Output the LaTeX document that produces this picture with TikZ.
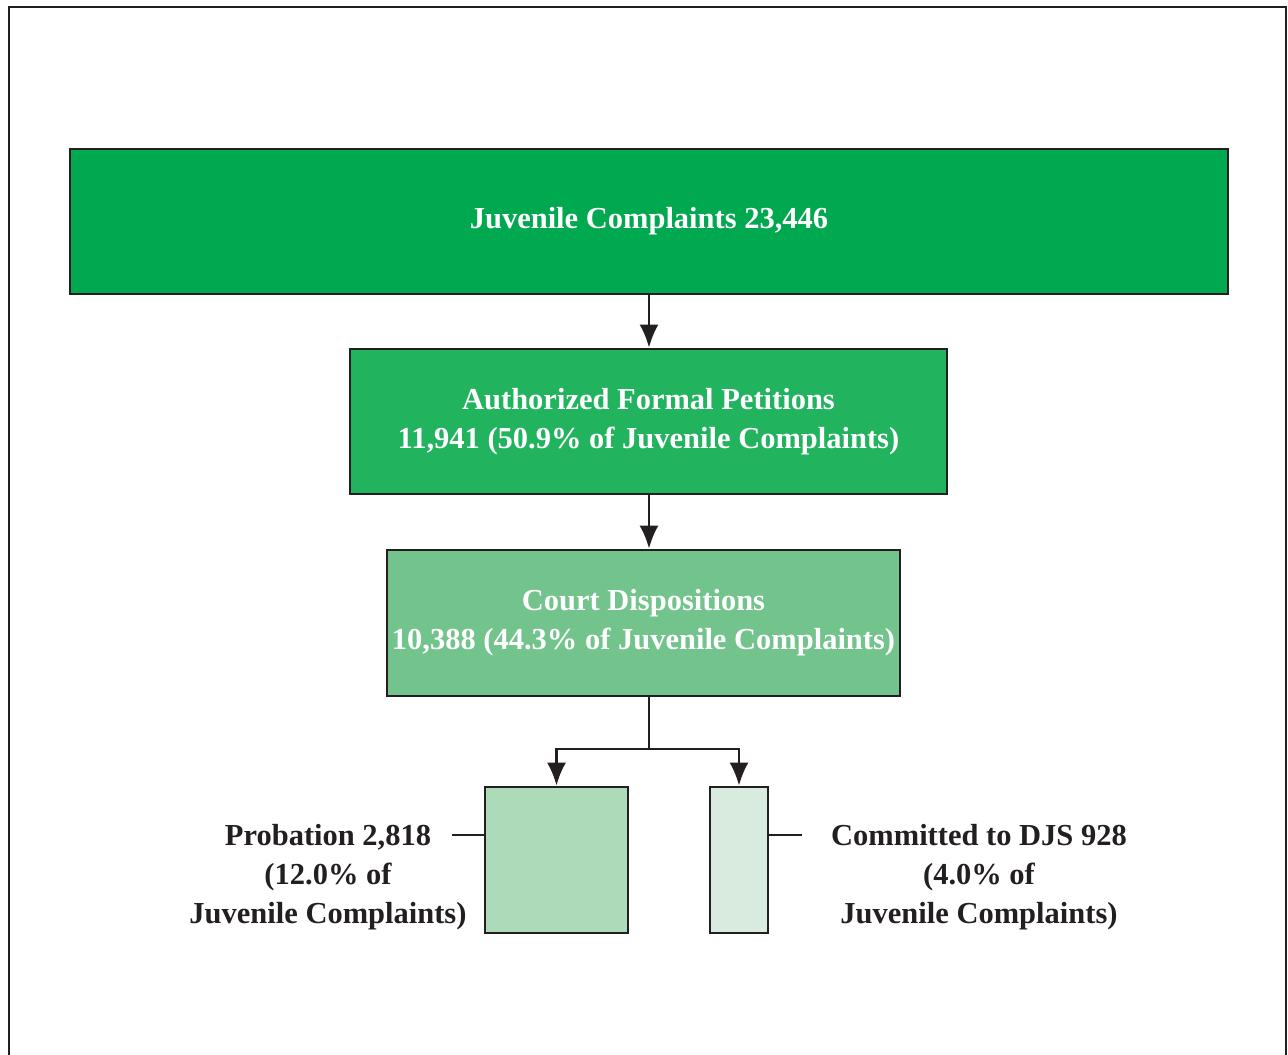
\documentclass[tikz,border=0pt]{standalone}
\usepackage{fontspec}
\setmainfont{Liberation Serif}
\usetikzlibrary{arrows.meta}
\definecolor{frame}{RGB}{35,31,32}
\definecolor{greenA}{RGB}{0,168,79}
\definecolor{greenB}{RGB}{34,179,95}
\definecolor{greenC}{RGB}{114,196,140}
\definecolor{greenD}{RGB}{173,218,185}
\definecolor{greenE}{RGB}{217,235,222}
\tikzset{
  box/.style={draw=frame,line width=2.7pt,minimum width=#1,
    inner sep=0pt,align=center,text=white,font=\fontsize{30.5}{39}\selectfont\bfseries},
  sidetext/.style={align=center,text=frame,font=\fontsize{30.5}{39}\selectfont\bfseries}
}
\begin{document}
\begin{tikzpicture}[x=1pt,y=-1pt,>={Latex[length=23pt,width=19pt]},line width=2.7pt,draw=frame]
\useasboundingbox (0,0) rectangle (1288,1055);
\fill[white] (0,0) rectangle (1288,1055);
\draw[color=frame] (9,1055)--(9,7)--(1286,7)--(1286,1055);
% flow boxes
\node[box=1158pt,minimum height=145pt,fill=greenA] (compl) at (649,221.5)
	{Juvenile Complaints 23,446};
\node[box=597pt,minimum height=145pt,fill=greenB] (petit) at (648.5,421.5)
	{Authorized Formal Petitions\\11,941 (50.9\% of Juvenile Complaints)};
\node[box=513pt,minimum height=146pt,fill=greenC] (court) at (643.5,623)
	{Court Dispositions\\10,388 (44.3\% of Juvenile Complaints)};
\node[box=143pt,minimum height=146pt,fill=greenD] (prob) at (556.5,860) {};
\node[box=58pt,minimum height=146pt,fill=greenE] (djs) at (739,860) {};
% connectors
\draw[->,color=frame] (compl.south -| 649,0)--(petit.north -| 649,0);
\draw[->,color=frame] (petit.south -| 649,0)--(court.north -| 649,0);
\coordinate (split) at (649,749);
\draw[color=frame] (court.south -| split)--(split);
\draw[->,color=frame] (split)-|(prob.north);
\draw[->,color=frame] (split)-|(djs.north);
% side labels
\coordinate (probtick) at (452,835);
\coordinate (djstick) at (802,835);
\draw[color=frame] (probtick)--(probtick -| prob.west);
\draw[color=frame] (djstick)--(djstick -| djs.east);
\node[sidetext] (problabel) at (328,877)
	{Probation 2,818\\(12.0\% of\\Juvenile Complaints)};
\node[sidetext] (djslabel) at (979,877)
	{Committed to DJS 928\\(4.0\% of\\Juvenile Complaints)};
\end{tikzpicture}
\end{document}
